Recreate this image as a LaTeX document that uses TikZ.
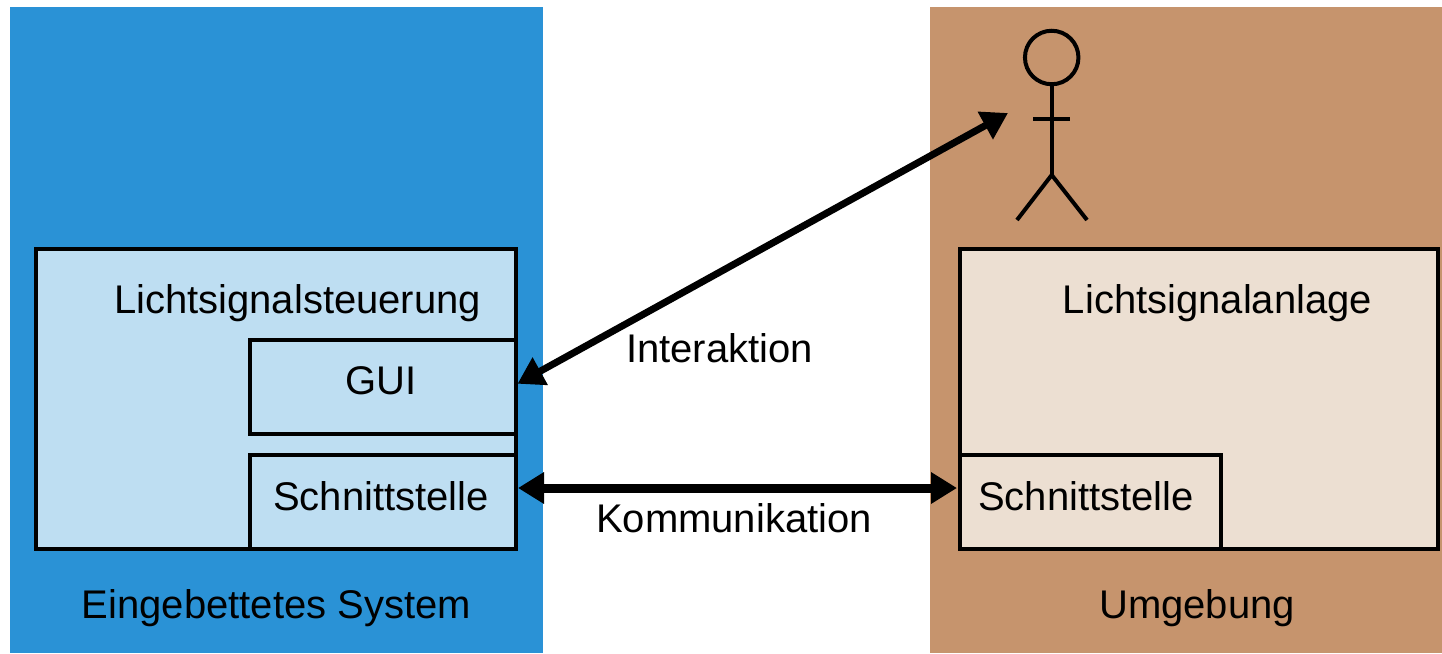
\documentclass[tikz,border=0pt]{standalone}
\usepackage{fontspec}
\setmainfont{Liberation Sans}
\usetikzlibrary{arrows.meta}
\definecolor{sysblue}{RGB}{42,146,214}
\definecolor{lightblue}{RGB}{190,222,242}
\definecolor{envbrown}{RGB}{198,148,109}
\definecolor{lightbeige}{RGB}{236,223,210}
\tikzset{
  panel/.style={draw=none, inner sep=0, outer sep=0, anchor=north west},
  box/.style={draw=black, line width=4pt, inner sep=0, outer sep=0, anchor=north west},
  lbl/.style={inner sep=0, anchor=base, font=\fontsize{40}{48}\selectfont},
  bigarrow/.style={line width=#1, {Triangle[length=26pt,width=30pt]}-{Triangle[length=26pt,width=30pt]}},
  figure/.style={line width=4pt}
}
\begin{document}
\begin{tikzpicture}[x=1pt,y=-1pt]
\useasboundingbox (0,0) rectangle (1442,653);
% panels
\node[panel, fill=sysblue, minimum width=533pt, minimum height=646pt] (sys) at (10,7) {};
\node[panel, fill=envbrown, minimum width=512pt, minimum height=646pt] (env) at (930,7) {};
% left boxes
\node[box, fill=lightblue, minimum width=480pt, minimum height=300pt] (lss) at (35.5,249) {};
\node[box, fill=lightblue, minimum width=265.5pt, minimum height=93.5pt] (gui) at (250,340) {};
\node[box, fill=lightblue, minimum width=265.5pt, minimum height=94pt] (schnL) at (250,455) {};
% right boxes
\node[box, fill=lightbeige, minimum width=478.5pt, minimum height=300pt] (lsa) at (959.5,249) {};
\node[box, fill=lightbeige, minimum width=261.5pt, minimum height=94pt] (schnR) at (959.5,455) {};
% labels
\node[lbl] (tLss) at (297.5,313) {Lichtsignalsteuerung};
\node[lbl] (tGui) at (381,394) {GUI};
\node[lbl] (tSchnL) at (381,510) {Schnittstelle};
\node[lbl] (tSys) at (276.5,618) {Eingebettetes System};
\node[lbl] (tLsa) at (1217.5,313) {Lichtsignalanlage};
\node[lbl] (tSchnR) at (1086,510) {Schnittstelle};
\node[lbl] (tEnv) at (1197,618) {Umgebung};
\node[lbl] (tInt) at (719.5,362) {Interaktion};
\node[lbl] (tKom) at (734,532) {Kommunikation};
% actor
\node[draw, circle, line width=4pt, minimum size=53.5pt, inner sep=0] (head) at (1051.7,57.5) {};
\coordinate (hip) at (1051.7,175);
\draw[figure] (head.south) -- (hip);
\draw[figure] (1033,119) -- (1070,119);
\draw[figure] (1017,220) -- (hip) -- (1087,220);
\coordinate (actor) at (1008,113);
% connectors
\draw[bigarrow=7pt] ([xshift=2pt,yshift=3pt]gui.east) -- (actor);
\draw[bigarrow=9pt] ([xshift=2.5pt,yshift=14pt]schnL.east) -- ([xshift=-2.5pt,yshift=14pt]schnR.west);
\end{tikzpicture}
\end{document}
